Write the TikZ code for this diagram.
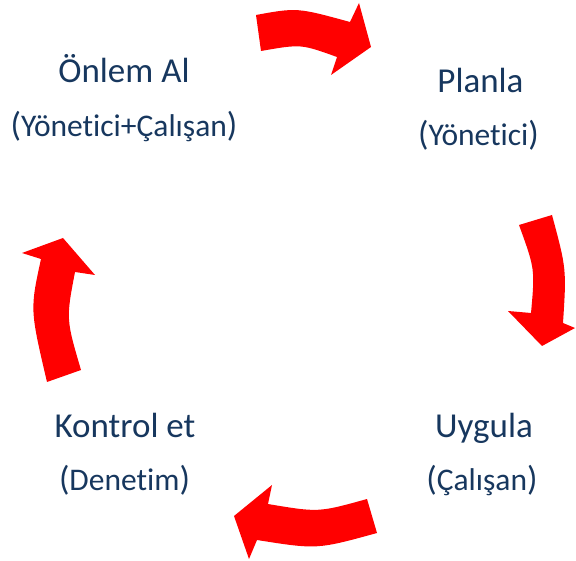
\documentclass[tikz,border=0pt]{standalone}
\usepackage{fontspec}
\setmainfont[Ligatures=NoCommon]{Carlito}
\definecolor{txtblue}{RGB}{23,55,94}
\definecolor{arrred}{RGB}{255,0,0}
\newcommand\bigpar[1]{{\fontsize{34.5}{34}\selectfont(}#1{\fontsize{34.5}{34}\selectfont)}}
\begin{document}
\begin{tikzpicture}[x=1pt,y=-1pt,
  mainlbl/.style={anchor=base,inner sep=0pt,text=txtblue,font=\fontsize{35}{40}\selectfont},
  sublbl/.style={anchor=base,inner sep=0pt,text=txtblue,font=\fontsize{31.5}{34}\selectfont},
  arrowshape/.style={fill=arrred,draw=none}]
\useasboundingbox (0,0) rectangle (576,561);
% labels
\node[mainlbl] (onlem) at (124,83) {Önlem Al};
\node[sublbl] (onlemsub) at (124,137) {\bigpar{Yönetici+Çalışan}};
\node[mainlbl] (planla) at (480.5,93) {Planla};
\node[sublbl] (planlasub) at (478.5,146) {\bigpar{Yönetici}};
\node[mainlbl] (uygula) at (484,437) {Uygula};
\node[sublbl] (uygulasub) at (482,490) {\bigpar{Çalışan}};
\node[mainlbl] (kontrol) at (125,438) {Kontrol et};
\node[sublbl] (kontrolsub) at (124.5,490) {\bigpar{Denetim}};
% top arrow
\fill[arrowshape] (256,15) .. controls (297,7.5) .. (350,22) -- (359,3) -- (371,47) -- (331,75) -- (337,57)
  .. controls (301,44) .. (261,51) -- cycle;
% right arrow
\fill[arrowshape] (552,215) .. controls (566.5,269) .. (563,323) -- (575,328) -- (542,346) -- (508,311) -- (531,313)
  .. controls (535,269) .. (519,225) -- cycle;
% bottom arrow
\fill[arrowshape] (377,533) .. controls (317,549.5) .. (257,540) -- (249,559) -- (234,516) -- (272,485) -- (268,504)
  .. controls (318.5,512.5) .. (367,499) -- cycle;
% left arrow
\fill[arrowshape] (47,382) .. controls (30,309.5) .. (41,259) -- (22,253) -- (63,238) -- (95,275) -- (75,272)
  .. controls (66,319) .. (81,370) -- cycle;
\end{tikzpicture}
\end{document}
